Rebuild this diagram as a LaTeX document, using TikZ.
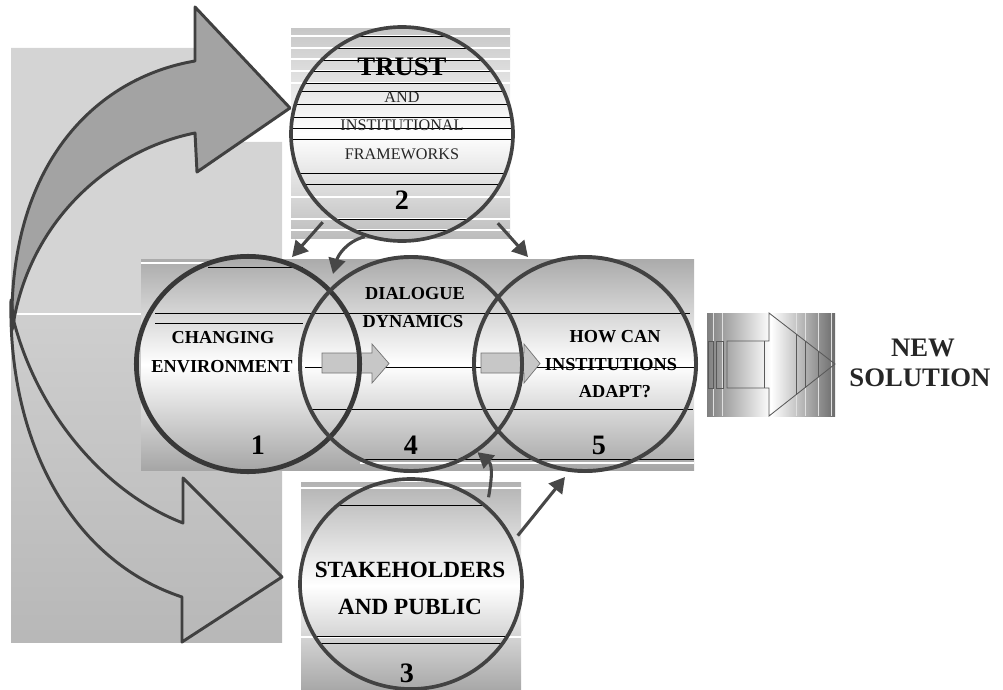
\documentclass[tikz,border=0pt]{standalone}
\usepackage{fontspec}
\setmainfont{Liberation Serif}
\usetikzlibrary{shapes.geometric,arrows.meta}

\tikzset{
  ring/.style={ellipse, draw=black!74, line width=2.6pt, inner sep=0pt,
    minimum width=5.55cm, minimum height=5.35cm},
  linkarrow/.style={draw=black!72, line width=2.2pt, -{Triangle[length=11pt,width=12pt]}},
  bigarrow/.style={draw=black!75, line width=2.1pt, line join=round},
  minorarrow/.style={draw=black!55, line width=0.5pt, fill=black!22},
  hline/.style={black, line width=0.7pt},
  wline/.style={white, line width=0.8pt},
  solline/.style={draw=black!65, line width=0.6pt},
  txtB/.style={font=\fontsize{13}{15}\selectfont\bfseries},
  txtR/.style={font=\fontsize{11.5}{14}\selectfont, text=black!85},
  txtD/.style={font=\fontsize{20}{22}\selectfont\bfseries},
}

\begin{document}
\begin{tikzpicture}[x=0.025cm, y=-0.025cm]
\useasboundingbox (0,0) rectangle (1003,689);
% left backdrop
\fill[black!17] (11,48) -- (195,48) -- (195,142) -- (282,142) -- (282,314) -- (11,314) -- cycle;
\shade[top color=black!19, bottom color=black!28] (11,314) rectangle (282,642);
\draw[wline] (11,314) -- (141,314);
% big curved arrows
\draw[bigarrow, fill=black!36] (12,330) .. controls (8,165) and (95,78) .. (195,61) -- (195,7)
  -- (290,108) -- (197,172) -- (195,133) .. controls (110,150) and (30,220) .. (13,325) -- cycle;
\draw[bigarrow] (11,300) .. controls (8,440) and (70,560) .. (182,597) -- (182,642)
  -- (282,577) -- (183,478) -- (183,523) .. controls (110,495) and (40,420) .. (14,322) -- cycle;
% trust backdrop
\shade[top color=black!22, bottom color=black!26, middle color=white] (291,29) rectangle (510,238);
\foreach \y in {36,48,59,71,83,197,219,230}
  \draw[wline] (291,\y) -- (510,\y);
\begin{scope}
\clip (402,134) ellipse [x radius=111, y radius=107];
\foreach \y in {36,48,60,71,83,91,104,117,128,139,173,184,219,230}
  \draw[hline] (291,\y) -- (513,\y);
\end{scope}
% band
\shade[top color=black!33, bottom color=black!35, middle color=white] (141,259) rectangle (694,470);
\draw[wline] (141,263) -- (208,263);
\draw[wline] (360,463) -- (694,463);
\draw[hline] (208,267) -- (303,267);
\draw[hline] (155,313) -- (690,313);
\draw[hline] (155,323) -- (303,323);
\draw[hline] (305,367) -- (694,367);
\draw[hline] (312,409) -- (693,409);
\draw[hline] (360,459) -- (694,459);
% stakeholders backdrop
\shade[top color=black!30, bottom color=black!34, middle color=white] (301,482) rectangle (521,689);
\foreach \y in {488,637}
  \draw[wline] (301,\y) -- (521,\y);
\begin{scope}
\clip (411,584) ellipse [x radius=111, y radius=105];
\foreach \y in {505,636,643}
  \draw[hline] (301,\y) -- (521,\y);
\end{scope}
% small arrows
\draw[minorarrow] (322,353) -- (372,353) -- (372,344) -- (389,363.5) -- (372,383) -- (372,373) -- (322,373) -- cycle;
\draw[minorarrow] (481,353) -- (524,353) -- (524,344) -- (540,363.5) -- (524,383) -- (524,373) -- (481,373) -- cycle;
% circles
\node[ring] (c2) at (402,134) {};
\node[ring, draw=black!78, line width=3.4pt, minimum width=5.58cm, minimum height=5.38cm] (c1) at (248,364) {};
\node[ring, line width=2.8pt] (c4) at (411,364) {};
\node[ring, line width=2.8pt] (c5) at (585,364) {};
\node[ring, minimum height=5.25cm] (c3) at (411,584) {};
% labels
\node[font=\fontsize{19}{22}\selectfont\bfseries] (trust) at (402,67) {TRUST};
\node[txtR] (and) at (402,97) {AND};
\node[txtR] (inst) at (402,125) {INSTITUTIONAL};
\node[txtR] (frame) at (402,154) {FRAMEWORKS};
\node[txtD] (n2) at (402,200) {2};
\node[txtB] (chg) at (223,338) {CHANGING};
\node[txtB] (env) at (222,367) {ENVIRONMENT};
\node[txtD] (n1) at (258,445) {1};
\node[txtB] (dia) at (415,294) {DIALOGUE};
\node[txtB] (dyn) at (413,322) {DYNAMICS};
\node[txtD] (n4) at (411,445) {4};
\node[txtB] (how) at (615,337) {HOW CAN};
\node[txtB] (insts) at (611,365) {INSTITUTIONS};
\node[txtB] (adapt) at (615,392) {ADAPT?};
\node[txtD] (n5) at (599,445) {5};
\node[font=\fontsize{16.5}{20}\selectfont\bfseries] (stake) at (410,570) {STAKEHOLDERS};
\node[font=\fontsize{16.5}{20}\selectfont\bfseries] (pub) at (410,607) {AND PUBLIC};
\node[txtD] (n3) at (407,673) {3};
% links
\coordinate (a1) at (292,257);
\coordinate (a2) at (333,274);
\coordinate (a3) at (528,257);
\coordinate (a5) at (565,477);
\draw[linkarrow, shorten <=0.2cm] (c2.-132) -- (a1);
\draw[linkarrow] (c2.-110) to[out=195, in=75] (a2);
\draw[linkarrow, shorten <=0.5cm] (c2.-42) -- (a3);
\draw[linkarrow, shorten <=0.2cm] (c3.46) to[out=80, in=-40] (c4.-53);
\draw[linkarrow, shorten <=0.15cm] (c3.23) -- (a5);
% new solution arrow
\shade[left color=black!50, right color=black!58, middle color=white] (707,313) rectangle (835,416);
\foreach \x in {713,722,796,805,818,831}
  \draw[black!12, line width=0.5pt] (\x,313) -- (\x,416);
\draw[solline] (727,341) -- (769,341) -- (769,313) -- (835,364) -- (769,416) -- (769,388) -- (727,388) -- cycle;
\draw[solline] (764,341) -- (764,388);
\draw[solline] (708,341) rectangle (713,388);
\draw[solline] (716,341) rectangle (723,388);
\draw[solline] (796,334) -- (796,395) (805,341) -- (805,388) (818,351) -- (818,377);
\node[font=\fontsize{19}{22}\selectfont\bfseries, text=black!85] (new) at (923,348) {NEW};
\node[font=\fontsize{19}{22}\selectfont\bfseries, text=black!85] (sol) at (920,378) {SOLUTION};
\end{tikzpicture}
\end{document}
